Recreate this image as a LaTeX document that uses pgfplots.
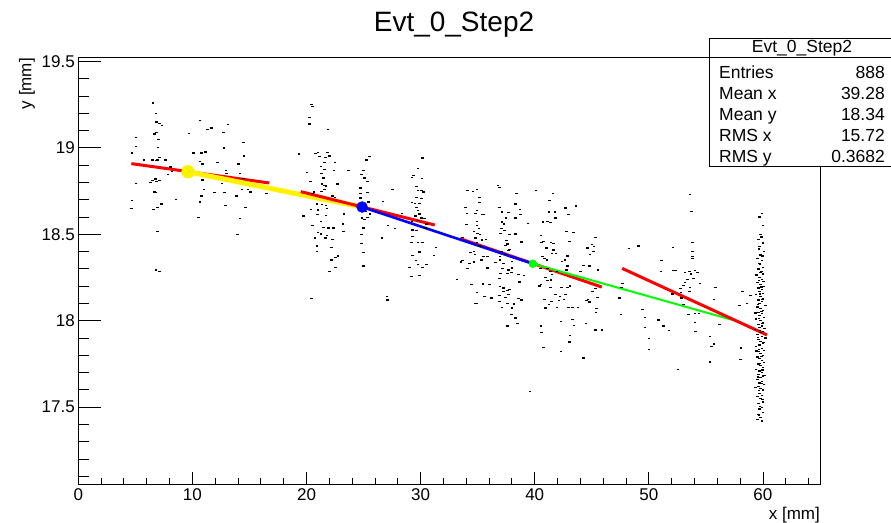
\documentclass[border=0pt]{standalone}
\usepackage{fontspec}
\setmainfont{Liberation Sans}
\usepackage{pgfplots}
\usepackage{pgfplotstable}
\pgfplotsset{compat=1.18}

\pgfplotstableread{
x y
6.55 19.26
6.81 19.20
6.87 19.15
7.10 19.14
7.33 19.13
6.69 19.08
6.87 19.09
7.04 19.05
5.07 19.06
5.07 19.01
4.72 18.97
6.98 19.00
7.10 18.945
6.81 18.926
6.93 18.93
6.52 18.93
5.76 18.93
7.62 18.93
8.09 18.89
8.20 18.865
7.86 18.845
6.75 18.82
6.52 18.81
7.10 18.81
6.87 18.807
6.34 18.80
5.07 18.795
6.69 18.745
6.81 18.74
7.28 18.676
6.93 18.653
6.58 18.645
4.72 18.695
4.66 18.65
8.55 18.70
6.93 18.518
6.81 18.294
7.10 18.287
10.68 19.16
11.32 19.107
11.67 19.115
13.12 19.134
12.71 19.09
9.69 19.084
14.46 19.03
12.77 18.999
10.10 18.97
10.79 18.97
11.14 18.976
14.52 18.953
10.68 18.922
10.91 18.907
12.19 18.915
14.05 18.907
12.94 18.868
13.00 18.853
14.17 18.853
10.91 18.814
14.46 18.822
12.60 18.795
11.03 18.76
11.96 18.741
12.83 18.741
14.34 18.76
14.86 18.76
15.10 18.745
16.49 18.737
13.87 18.722
10.79 18.722
10.68 18.687
12.89 18.668
14.63 18.653
10.56 18.599
14.17 18.591
13.93 18.499
20.44 19.25
20.50 19.24
20.27 19.177
20.27 19.138
21.90 19.107
19.34 18.965
20.79 18.969
21.02 18.972
21.14 18.95
21.66 18.946
21.84 18.972
22.01 18.953
21.55 18.915
22.48 18.915
21.26 18.892
21.60 18.876
22.42 18.868
21.31 18.853
20.03 18.857
23.70 18.868
24.98 18.868
24.80 18.845
25.50 18.95
25.27 18.93
25.10 18.826
25.33 18.807
20.33 18.807
21.49 18.826
21.37 18.791
21.55 18.784
21.72 18.78
22.71 18.791
21.31 18.749
21.60 18.757
20.67 18.745
20.50 18.737
22.30 18.722
22.48 18.714
24.75 18.768
24.75 18.737
25.33 18.741
24.75 18.71
25.44 18.687
27.54 18.757
26.72 18.691
20.91 18.676
21.37 18.672
21.72 18.668
21.78 18.649
20.38 18.645
21.02 18.641
19.74 18.606
20.96 18.614
21.72 18.61
23.29 18.618
24.86 18.595
25.10 18.587
25.33 18.599
25.15 18.63
25.56 18.618
21.26 18.572
20.50 18.549
21.49 18.541
21.95 18.537
22.36 18.537
23.18 18.56
21.02 18.51
21.26 18.502
21.78 18.495
20.73 18.479
21.66 18.479
22.30 18.468
23.23 18.518
24.98 18.537
27.13 18.549
27.77 18.533
26.61 18.479
24.80 18.498
20.91 18.433
22.19 18.425
20.91 18.402
24.80 18.448
24.98 18.394
22.77 18.375
22.54 18.364
22.19 18.352
22.54 18.31
22.01 18.287
24.98 18.317
20.45 18.13
27.05 18.14
27.10 18.12
30.19 18.942
29.78 18.88
29.37 18.838
29.26 18.83
30.13 18.822
29.66 18.776
29.78 18.753
30.07 18.753
30.24 18.745
29.66 18.714
30.07 18.707
29.26 18.684
29.49 18.68
29.90 18.68
29.66 18.653
29.78 18.637
29.90 18.618
29.55 18.606
30.07 18.595
30.36 18.591
29.78 18.579
29.26 18.576
30.54 18.56
29.31 18.525
29.66 18.522
30.42 18.537
29.31 18.487
29.20 18.452
29.78 18.452
30.19 18.452
31.35 18.425
29.90 18.398
29.31 18.379
31.18 18.379
29.60 18.348
29.78 18.325
30.19 18.31
30.54 18.325
29.02 18.31
29.20 18.256
29.90 18.263
28.38 18.622
36.79 18.783
36.90 18.772
34.11 18.752
34.58 18.748
34.93 18.76
35.16 18.714
35.16 18.683
33.94 18.656
34.05 18.621
34.93 18.637
35.39 18.617
35.57 18.617
34.81 18.621
38.42 18.737
40.12 18.752
41.59 18.737
41.30 18.694
36.90 18.656
37.14 18.629
37.72 18.625
38.30 18.675
38.71 18.644
38.77 18.614
38.30 18.594
37.49 18.594
37.14 18.571
37.31 18.56
39.41 18.563
34.93 18.575
34.93 18.552
34.00 18.556
35.10 18.533
37.08 18.533
37.37 18.521
37.02 18.506
37.78 18.498
38.30 18.502
34.69 18.517
34.99 18.506
35.22 18.498
33.65 18.483
34.81 18.479
35.39 18.467
35.74 18.471
34.93 18.452
35.16 18.432
37.54 18.463
37.60 18.444
37.43 18.436
38.82 18.456
37.78 18.413
37.08 18.402
37.43 18.382
36.96 18.371
37.72 18.405
34.69 18.402
34.75 18.382
34.35 18.394
35.51 18.371
35.33 18.351
34.69 18.34
34.29 18.332
33.65 18.348
33.53 18.34
34.11 18.301
35.86 18.305
35.86 18.371
36.56 18.336
36.96 18.351
37.25 18.332
38.01 18.344
37.20 18.301
37.72 18.294
38.01 18.305
37.60 18.274
37.95 18.278
37.02 18.274
36.90 18.244
38.59 18.267
38.65 18.224
39.06 18.263
33.18 18.24
34.46 18.209
35.45 18.213
36.03 18.209
34.93 18.163
36.96 18.197
37.25 18.19
37.60 18.174
37.78 18.182
37.25 18.167
36.90 18.147
37.72 18.151
37.43 18.136
35.62 18.14
36.21 18.132
38.59 18.128
38.82 18.12
34.75 18.101
34.93 18.101
36.90 18.113
37.60 18.101
38.18 18.097
37.14 18.078
38.01 18.074
37.95 18.036
38.30 18.016
38.48 17.985
37.60 17.97
40.72 18.571
41.12 18.575
41.36 18.567
41.82 18.594
41.24 18.629
41.76 18.629
42.98 18.617
43.62 18.664
42.69 18.652
42.81 18.517
43.39 18.509
40.54 18.494
40.60 18.452
41.41 18.455
41.65 18.448
40.77 18.459
43.04 18.459
41.01 18.421
41.53 18.39
41.88 18.39
41.65 18.409
40.66 18.371
40.83 18.359
41.06 18.351
42.87 18.375
42.64 18.351
42.40 18.344
42.87 18.317
42.81 18.294
44.61 18.421
45.02 18.44
45.20 18.429
45.31 18.483
45.14 18.402
44.85 18.382
44.26 18.321
44.79 18.317
45.54 18.294
44.03 18.286
40.48 18.301
41.12 18.301
41.36 18.286
41.53 18.267
41.94 18.286
40.95 18.251
41.12 18.232
41.41 18.236
40.54 18.209
41.36 18.193
42.34 18.193
42.87 18.193
43.10 18.201
40.43 18.201
41.82 18.151
42.23 18.14
42.69 18.151
42.58 18.124
41.47 18.113
42.11 18.116
40.83 18.124
41.24 18.093
40.95 18.074
41.94 18.078
42.98 18.078
43.33 18.078
43.80 18.078
44.56 18.116
44.79 18.109
44.67 18.124
45.49 18.136
45.08 18.17
45.31 18.186
45.43 18.07
45.37 18.047
45.31 17.947
45.89 17.947
42.29 17.997
43.33 18.008
43.45 17.974
44.50 17.985
43.10 17.916
43.04 17.877
40.54 17.97
40.60 17.931
40.77 17.847
42.29 17.824
44.26 17.785
39.58 17.592
53.74 18.633
53.60 18.73
49.08 18.433
48.27 18.417
52.11 18.425
53.80 18.452
53.80 18.402
53.85 18.371
53.80 18.36
51.12 18.348
52.11 18.29
52.34 18.29
51.06 18.286
53.16 18.279
53.56 18.286
54.03 18.29
54.26 18.279
53.68 18.271
53.39 18.24
53.91 18.244
54.49 18.217
53.16 18.221
53.04 18.205
53.62 18.194
53.56 18.171
52.75 18.186
52.81 18.163
55.83 18.194
47.69 18.217
47.63 18.194
47.45 18.132
52.05 18.155
52.86 18.132
55.71 18.125
53.04 18.094
54.03 18.044
54.38 18.04
53.50 18.036
49.43 18.063
47.57 18.036
49.67 18.017
50.83 18.005
51.30 17.97
51.76 17.943
49.67 17.959
54.03 17.99
54.09 17.936
56.18 17.978
55.37 17.909
55.71 17.866
55.48 17.851
50.01 17.897
50.01 17.836
52.57 17.72
55.37 17.762
58.19 18.167
57.96 18.086
58.60 18.101
58.89 18.144
58.07 17.843
58.01 17.774
59.9 18.62
59.7 18.60
60.0 18.55
59.8 18.50
59.6 18.47
60.0 18.45
59.7 18.43
60.1 18.40
59.8 18.38
59.5 18.36
59.9 18.35
59.7 18.33
60.0 18.31
59.6 18.30
59.8 18.28
60.0 18.27
59.7 18.25
59.9 18.24
59.5 18.22
59.8 18.21
60.1 18.20
59.6 18.19
59.9 18.18
59.7 18.17
60.0 18.16
59.4 18.15
59.8 18.14
60.0 18.13
59.6 18.12
59.9 18.11
59.7 18.10
60.2 18.09
59.5 18.08
59.8 18.07
60.0 18.06
59.6 18.05
59.9 18.04
59.7 18.03
60.1 18.02
59.4 18.01
59.8 18.00
60.0 17.99
59.6 17.98
59.9 17.97
59.7 17.96
59.3 17.95
60.0 17.94
59.8 17.93
59.5 17.92
59.9 17.91
60.2 17.90
59.6 17.89
59.8 17.88
60.0 17.87
59.7 17.86
59.4 17.85
59.9 17.84
60.1 17.83
59.6 17.82
59.8 17.81
60.0 17.80
59.5 17.79
59.7 17.78
59.9 17.77
60.1 17.76
59.6 17.75
59.8 17.74
60.0 17.73
59.4 17.72
59.7 17.71
59.9 17.70
59.6 17.69
60.0 17.68
59.8 17.67
59.5 17.66
59.9 17.65
59.7 17.64
60.1 17.63
59.6 17.62
59.8 17.61
60.0 17.60
59.7 17.58
59.9 17.57
59.5 17.56
59.8 17.55
60.0 17.53
59.6 17.52
59.9 17.50
59.7 17.49
60.0 17.47
59.6 17.46
59.8 17.44
59.5 17.43
59.9 17.42
59.65 18.235
59.85 18.195
59.75 18.155
59.95 18.125
59.55 18.095
59.85 18.055
59.65 18.015
59.95 17.985
59.75 17.945
59.55 17.905
60.05 17.875
59.65 17.835
59.85 17.795
59.75 17.755
59.95 17.715
59.55 17.675
59.85 17.635
59.65 17.595
59.95 17.545
59.75 17.505
59.65 17.455
59.85 18.285
59.75 18.325
59.95 18.375
59.65 18.415
59.85 18.485
59.45 18.265
60.05 18.225
59.35 18.045
60.15 17.955
59.45 17.825
60.15 17.685
59.35 17.615
}\hits

\begin{document}
\begin{tikzpicture}
\path[use as bounding box] (0,0) rectangle (891pt,522pt);
\begin{axis}[
  at={(78.3pt,37pt)}, anchor=south west,
  width=741.7pt, height=427pt, scale only axis,
  xmin=0, xmax=65, ymin=17.05, ymax=19.52,
  axis line style={line width=1pt},
  tick align=inside, xtick pos=bottom, ytick pos=left,
  xtick={0,10,...,60}, ytick={17.5,18,...,19.5},
  minor xtick={2,4,6,8,12,14,16,18,22,24,26,28,32,34,36,38,42,44,46,48,52,54,56,58,62,64},
  minor ytick={17.1,17.2,17.3,17.4,17.6,17.7,17.8,17.9,18.1,18.2,18.3,18.4,18.6,18.7,18.8,18.9,19.1,19.2,19.3,19.4},
  x tick style={line width=0.9pt,black,/pgfplots/major tick length=13pt,/pgfplots/minor tick length=7pt},
  y tick style={line width=0.9pt,black,/pgfplots/major tick length=23pt,/pgfplots/minor tick length=11pt},
  /pgf/number format/assume math mode=true,
  tick label style={font=\fontsize{17}{17}\selectfont},
  xticklabel style={yshift=0pt},
  yticklabel style={xshift=0pt},
]
\addplot[only marks, mark=-, mark size=1.3pt, mark options={line width=1.2pt, black}] table {\hits};
\addplot[red, line width=3pt] coordinates {(4.65,18.909) (16.74,18.797)};
\addplot[yellow, line width=5pt] coordinates {(9.62,18.862) (24.87,18.658)};
\addplot[red, line width=3pt] coordinates {(19.5,18.747) (31.24,18.554)};
\addplot[red, line width=3pt] coordinates {(33.46,18.475) (45.88,18.195)};
\addplot[blue, line width=2.6pt] coordinates {(24.87,18.658) (39.83,18.33)};
\addplot[green, line width=2pt] coordinates {(39.83,18.33) (58.07,17.991)};
\addplot[red, line width=3pt] coordinates {(47.66,18.303) (60.35,17.918)};
\addplot[only marks, mark=*, mark size=6.5pt, mark options={yellow, draw=yellow}] coordinates {(9.62,18.862)};
\addplot[only marks, mark=*, mark size=5.5pt, mark options={blue, draw=blue}] coordinates {(24.87,18.658)};
\addplot[only marks, mark=*, mark size=4pt, mark options={green, draw=green}] coordinates {(39.83,18.33)};
\end{axis}
% titles and labels
\node[anchor=base, inner sep=0, font=\fontsize{28}{28}\selectfont] at (454pt,490pt) {Evt\_0\_Step2};
\node[anchor=north east, inner sep=0, font=\fontsize{17}{17}\selectfont] at (820pt,15pt) {x [mm]};
\node[rotate=90, anchor=east, inner sep=0, font=\fontsize{17}{17}\selectfont] at (27pt,464pt) {y [mm]};
% stats box
\draw[line width=1pt, fill=white] (709pt,483pt) rectangle (895pt,355pt);
\draw[line width=1pt] (709pt,464pt) -- (895pt,464pt);
\begin{scope}[every node/.style={inner sep=0, font=\fontsize{17.5}{17.5}\selectfont}]
\node[anchor=center] at (802pt,473.5pt) {Evt\_0\_Step2};
\node[anchor=base west] at (719pt,443pt) {Entries};
\node[anchor=base east] at (885pt,443pt) {888};
\node[anchor=base west] at (719pt,422pt) {Mean x};
\node[anchor=base east] at (885pt,422pt) {39.28};
\node[anchor=base west] at (719pt,401pt) {Mean y};
\node[anchor=base east] at (885pt,401pt) {18.34};
\node[anchor=base west] at (719pt,380pt) {RMS x};
\node[anchor=base east] at (885pt,380pt) {15.72};
\node[anchor=base west] at (719pt,359pt) {RMS y};
\node[anchor=base east] at (885pt,359pt) {0.3682};
\end{scope}
\end{tikzpicture}
\end{document}
